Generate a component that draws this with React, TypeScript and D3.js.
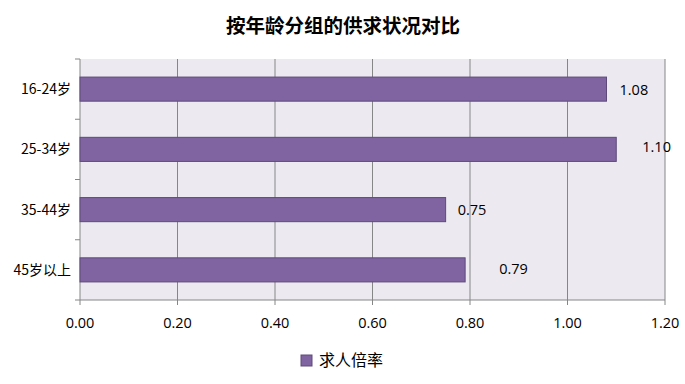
import React from "react";
import * as d3 from "d3";

const categories = ["16-24岁", "25-34岁", "35-44岁", "45岁以上"];
const values = [1.08, 1.1, 0.75, 0.79];
const valueLabels = ["1.08", "1.10", "0.75", "0.79"];
const xTicks = [0, 0.2, 0.4, 0.6, 0.8, 1.0, 1.2];
const seriesName = "求人倍率";
const title = "按年龄分组的供求状况对比";

// label offsets (layout only)
const labelDx = [13, 26, 12, 34];
const labelDy = [0, -3, 0, -1];

const W = 685, H = 384;
const left = 80, right = 665, top = 59, bottom = 300;
const font = "'Noto Sans CJK SC', 'Noto Sans', sans-serif";
const labelFont = "'Open Sans', 'Noto Sans CJK SC', sans-serif";

export default function App() {
  const x = d3.scaleLinear().domain([0, 1.2]).range([left, right]);
  const y = d3.scaleBand<string>().domain(categories).range([top, bottom]).paddingInner(0.6).paddingOuter(0.3);
  const yb = d3.scaleBand<string>().domain(categories).range([top, bottom]);
  const grid = "#868686";
  return (
    <svg width={W} height={H} style={{ position: "absolute", left: 0, top: 0 }}>
      <rect x={0} y={0} width={W} height={H} fill="#fff" />
      <text x={343} y={33} textAnchor="middle" fontFamily={font} fontWeight="bold" fontSize={19.5} fill="#000">{title}</text>
      <rect x={left} y={top} width={right - left} height={bottom - top} fill="#ECEAF0" />
      {xTicks.map((t, i) => (
        <g key={i}>
          {i > 0 && <line x1={x(t)} x2={x(t)} y1={top} y2={bottom} stroke={grid} strokeWidth={1} />}
          <line x1={x(t)} x2={x(t)} y1={bottom} y2={bottom + 5} stroke={grid} />
          <text x={x(t)} y={bottom + 28} textAnchor="middle" fontFamily={labelFont} fontSize={14.5} fill="#000">{t.toFixed(2)}</text>
        </g>
      ))}
      <line x1={left} x2={right} y1={bottom} y2={bottom} stroke={grid} />
      <line x1={left} x2={left} y1={top} y2={bottom} stroke={grid} />
      {[...categories.map((c) => yb(c)!), bottom].map((v, i) => (
        <line key={i} x1={left - 5} x2={left} y1={v} y2={v} stroke={grid} />
      ))}
      {categories.map((c, i) => (
        <g key={c}>
          <rect x={x(0)} y={y(c)!} width={x(values[i]) - x(0)} height={y.bandwidth()} fill="#8064A2" stroke="#5E4A7A" strokeWidth={1} />
          <text x={left - 9} y={y(c)! + y.bandwidth() / 2 + 5} textAnchor="end" fontFamily={font} fontSize={14} fill="#000">{c}</text>
          <text x={x(values[i]) + labelDx[i]} y={y(c)! + y.bandwidth() / 2 + 5.5 + labelDy[i]} fontFamily={labelFont} fontSize={14.5} fill="#000">{valueLabels[i]}</text>
        </g>
      ))}
      <rect x={301} y={355} width={11} height={11} fill="#8064A2" stroke="#5E4A7A" />
      <text x={319} y={366} fontFamily={font} fontSize={16} fill="#000">{seriesName}</text>
    </svg>
  );
}
